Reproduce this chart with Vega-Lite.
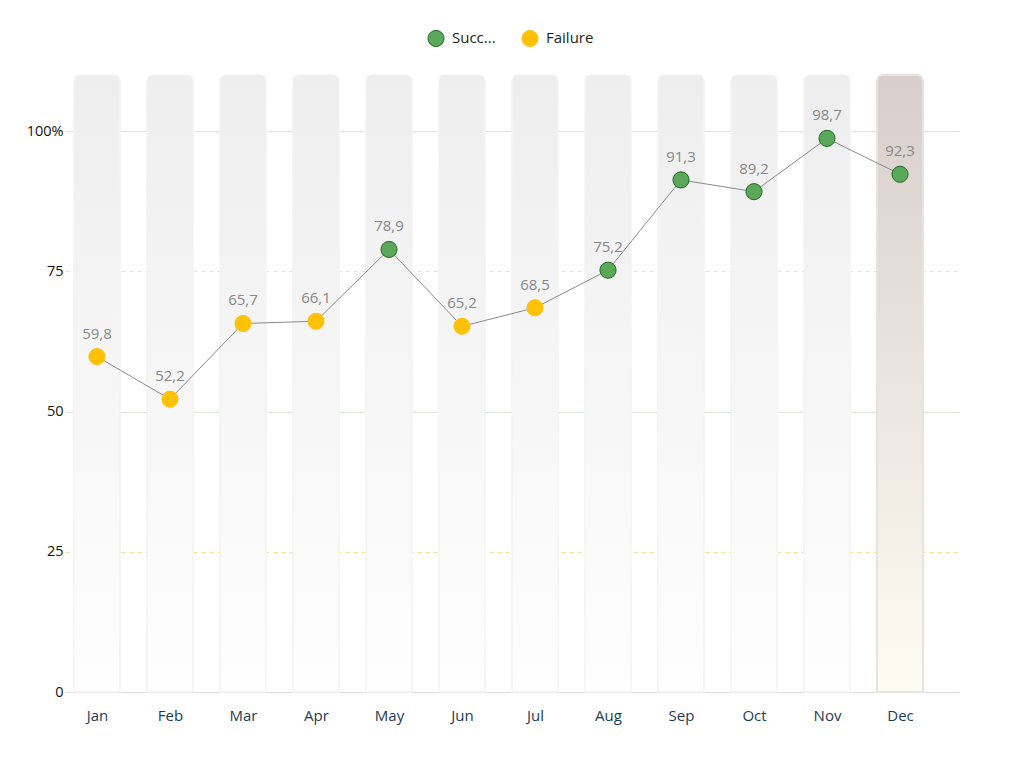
{
  "$schema": "https://vega.github.io/schema/vega-lite/v6.json",
  "width": 894,
  "height": 617,
  "autosize": {"type": "none"},
  "padding": {"left": 65, "top": 75, "right": 65, "bottom": 76},
  "background": "#ffffff",
  "config": {
    "font": "Open Sans",
    "view": {"stroke": null},
    "locale": {"number": {"decimal": ",", "thousands": ".", "grouping": [3], "currency": ["", "€"]}}
  },
  "data": {
    "values": [
      {"idx": 0, "month": "Jan", "value": 59.8, "status": "Failure"},
      {"idx": 1, "month": "Feb", "value": 52.2, "status": "Failure"},
      {"idx": 2, "month": "Mar", "value": 65.7, "status": "Failure"},
      {"idx": 3, "month": "Apr", "value": 66.1, "status": "Failure"},
      {"idx": 4, "month": "May", "value": 78.9, "status": "Success"},
      {"idx": 5, "month": "Jun", "value": 65.2, "status": "Failure"},
      {"idx": 6, "month": "Jul", "value": 68.5, "status": "Failure"},
      {"idx": 7, "month": "Aug", "value": 75.2, "status": "Success"},
      {"idx": 8, "month": "Sep", "value": 91.3, "status": "Success"},
      {"idx": 9, "month": "Oct", "value": 89.2, "status": "Success"},
      {"idx": 10, "month": "Nov", "value": 98.7, "status": "Success"},
      {"idx": 11, "month": "Dec", "value": 92.3, "status": "Success"}
    ]
  },
  "encoding": {
    "x": {
      "field": "idx",
      "type": "quantitative",
      "scale": {"domain": [-0.438, 11.808], "nice": false, "zero": false, "padding": 0},
      "axis": {
        "title": null,
        "values": [0, 1, 2, 3, 4, 5, 6, 7, 8, 9, 10, 11],
        "labelExpr": "['Jan','Feb','Mar','Apr','May','Jun','Jul','Aug','Sep','Oct','Nov','Dec'][datum.value]",
        "grid": false,
        "ticks": false,
        "domain": true,
        "domainColor": "#dddddd",
        "labelColor": "#1d3b55",
        "labelFontSize": 15,
        "labelPadding": 16,
        "labelFlush": false
      }
    }
  },
  "layer": [
    {
      "transform": [{"filter": "datum.month !== 'Dec'"}],
      "mark": {
        "type": "bar",
        "size": 46,
        "cornerRadiusTopLeft": 6,
        "cornerRadiusTopRight": 6,
        "stroke": "#f3f3f3",
        "strokeWidth": 1.5,
        "fill": {
          "gradient": "linear", "x1": 0, "y1": 0, "x2": 0, "y2": 1,
          "stops": [{"offset": 0, "color": "#eeeeee"}, {"offset": 1, "color": "#fefefe"}]
        }
      },
      "encoding": {
        "y": {
          "datum": 110,
          "type": "quantitative",
          "scale": {"domain": [0, 110], "nice": false},
          "axis": {
            "title": null,
            "grid": true,
            "values": [0, 25, 50, 75, 100],
            "labelExpr": "datum.value === 100 ? '100%' : datum.label",
            "domain": false,
            "ticks": false,
            "labelColor": "#111111",
            "labelFontSize": 14.5,
            "labelPadding": 2,
            "gridColor": {"condition": {"test": "datum.value === 25", "value": "#ffdf85"}, "value": "#dde6dd"},
            "gridDash": {"condition": {"test": "datum.value === 25 || datum.value === 75", "value": [4, 4]}, "value": []}
          }
        },
        "y2": {"datum": 0}
      }
    },
    {
      "transform": [{"filter": "datum.month === 'Dec'"}],
      "mark": {
        "type": "bar",
        "size": 46,
        "cornerRadiusTopLeft": 6,
        "cornerRadiusTopRight": 6,
        "stroke": "#e8e3df",
        "strokeWidth": 2,
        "fill": {
          "gradient": "linear", "x1": 0, "y1": 0, "x2": 0, "y2": 1,
          "stops": [{"offset": 0, "color": "#d8cecb"}, {"offset": 1, "color": "#fdfcf2"}]
        }
      },
      "encoding": {
        "y": {"datum": 110, "type": "quantitative"},
        "y2": {"datum": 0}
      }
    },
    {
      "mark": {"type": "line", "color": "#8a8a8a", "strokeWidth": 1},
      "encoding": {
        "y": {"field": "value", "type": "quantitative"}
      }
    },
    {
      "mark": {"type": "point", "filled": true, "shape": "circle", "opacity": 1, "size": 260, "strokeWidth": 1},
      "encoding": {
        "y": {"field": "value", "type": "quantitative"},
        "fill": {
          "field": "status",
          "type": "nominal",
          "scale": {"domain": ["Success", "Failure"], "range": ["#5ba85a", "#ffc107"]},
          "legend": {
            "title": null,
            "orient": "none",
            "direction": "horizontal",
            "legendX": 362,
            "legendY": -46,
            "symbolType": "circle",
            "symbolSize": 260,
            "symbolStrokeWidth": 1,
            "labelFontSize": 15,
            "labelColor": "#222222",
            "labelOffset": 7,
            "columnPadding": 23,
            "labelExpr": "datum.label === 'Success' ? 'Succ...' : datum.label"
          }
        },
        "stroke": {
          "field": "status",
          "type": "nominal",
          "scale": {"domain": ["Success", "Failure"], "range": ["#1f6b22", "#ffc107"]},
          "legend": null
        }
      }
    },
    {
      "mark": {"type": "text", "dy": -23, "color": "#888888", "fontSize": 15},
      "encoding": {
        "y": {"field": "value", "type": "quantitative"},
        "text": {"field": "value", "type": "quantitative", "format": ".1f"}
      }
    }
  ]
}
